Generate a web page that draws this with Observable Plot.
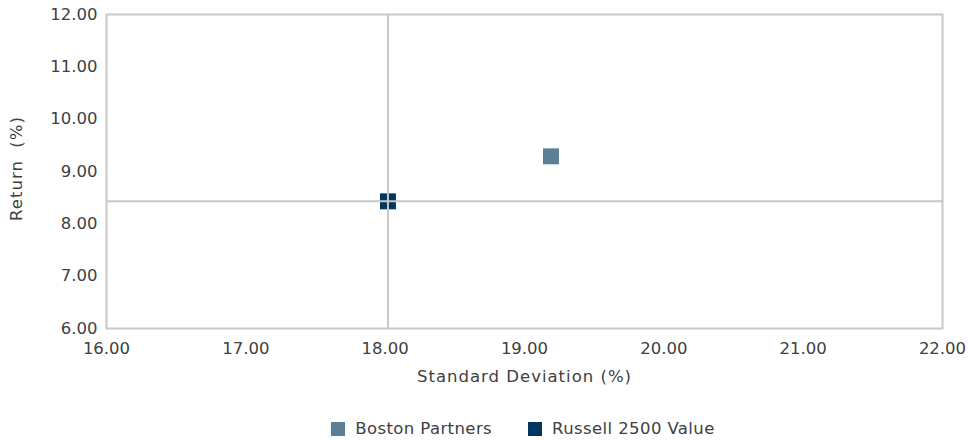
<!DOCTYPE html>
<html>
<head>
<meta charset="utf-8">
<script src="https://cdn.jsdelivr.net/npm/d3@7"></script>
<script src="https://cdn.jsdelivr.net/npm/@observablehq/plot@0.6"></script>
<style>
  html, body { margin: 0; padding: 0; background: #fff; }
  body { width: 968px; height: 440px; overflow: hidden; font-family: "DejaVu Sans", sans-serif; color: #404040; }
  #legend { display: flex; justify-content: center; gap: 36px; font-size: 16.5px; margin-top: 14px; letter-spacing: 0.4px; padding-left: 78px; }
  #legend .item { display: flex; align-items: center; gap: 10px; }
  #legend .sw { width: 14px; height: 14px; display: inline-block; }
</style>
</head>
<body>
<div id="chart"></div>
<div id="legend"></div>
<script>
// Risk / return points
const names = ["Boston Partners", "Russell 2500 Value"];
const stdDev = [19.19, 18.02];
const returns = [9.29, 8.43];
const colors = ["#5b7f95", "#003660"];

const xTicks = [16, 17, 18, 19, 20, 21, 22];
const yTicks = [6, 7, 8, 9, 10, 11, 12];

const xTitle = "Standard Deviation (%)";
const yTitle = "Return  (%)";

// Benchmark crosshair sits on the index point
const benchX = stdDev[1];
const benchY = returns[1];

const data = names.map((n, i) => ({name: n, sd: stdDev[i], ret: returns[i], color: colors[i]}));

const font = "'DejaVu Sans', sans-serif";

const chart = Plot.plot({
  width: 968,
  height: 405,
  marginTop: 14,
  marginLeft: 106,
  marginRight: 26,
  marginBottom: 77,
  style: {fontFamily: font, fontSize: "16.5px", color: "#404040", background: "#fff"},
  x: {domain: [16, 22], ticks: xTicks, tickFormat: d3.format(".2f"), label: null},
  y: {domain: [6, 12], ticks: yTicks, tickFormat: d3.format(".2f"), label: null},
  marks: [
    Plot.frame({stroke: "#c8c8c8", strokeWidth: 2, strokeOpacity: 1}),
    Plot.dot(data, {x: "sd", y: "ret", symbol: "square", r: 9, fill: "color", stroke: null}),
    Plot.ruleX([benchX], {stroke: "#c8c8c8", strokeWidth: 2}),
    Plot.ruleY([benchY], {stroke: "#c8c8c8", strokeWidth: 2}),
    Plot.axisX({ticks: xTicks, tickFormat: d3.format(".2f"), tickSize: 0, tickPadding: 14, fontSize: 16.5, label: null}),
    Plot.axisY({ticks: yTicks, tickFormat: d3.format(".2f"), tickSize: 0, tickPadding: 9, fontSize: 16.5, label: null}),
    Plot.text([xTitle], {frameAnchor: "bottom", dy: 53, fontSize: 16.5, fill: "#404040"}),
    Plot.text([yTitle], {frameAnchor: "left", textAnchor: "middle", dx: -90, dy: -3, rotate: -90, fontSize: 16.5, fill: "#404040"})
  ]
});

// Slightly tracked-out axis titles
d3.select(chart).selectAll("text")
  .filter(function() { return this.textContent === xTitle || this.textContent === yTitle; })
  .style("letter-spacing", "1px")
  .style("white-space", "pre");

document.getElementById("chart").appendChild(chart);

const legend = document.getElementById("legend");
data.forEach(d => {
  const item = document.createElement("div");
  item.className = "item";
  const sw = document.createElement("span");
  sw.className = "sw";
  sw.style.background = d.color;
  const label = document.createElement("span");
  label.textContent = d.name;
  item.appendChild(sw);
  item.appendChild(label);
  legend.appendChild(item);
});
</script>
</body>
</html>
